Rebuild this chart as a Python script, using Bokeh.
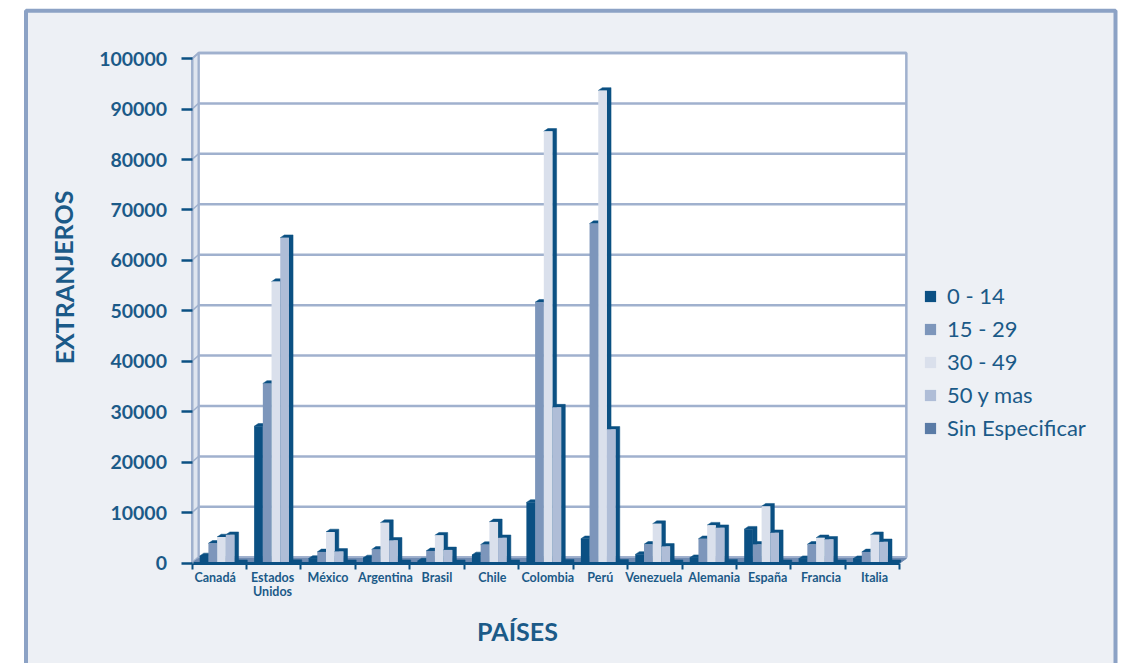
from bokeh.plotting import figure
from bokeh.embed import file_html
from bokeh.resources import INLINE
from bokeh.core.properties import value
from bokeh.models import (Range1d, LinearAxis, FixedTicker, Legend, LegendItem, BasicTickFormatter)

paises = ["Canadá", "Estados\nUnidos", "México", "Argentina", "Brasil", "Chile", "Colombia", "Perú",
          "Venezuela", "Alemania", "España", "Francia", "Italia"]
edad_0_14 = [1400, 27100, 900, 1000, 400, 1600, 12000, 4800, 1700, 1050, 6700, 850, 850]
edad_15_29 = [3900, 35600, 2200, 2700, 2400, 3650, 51700, 67300, 3700, 4800, 3700, 3700, 2200]
edad_30_49 = [5150, 55800, 6150, 8000, 5500, 8150, 85600, 93700, 7800, 7500, 11250, 5000, 5600]
edad_50_mas = [5600, 64500, 2300, 4500, 2600, 5000, 30900, 26500, 3300, 7000, 6000, 4700, 4200]
sin_especificar = [50, 80, 60, 60, 50, 60, 150, 120, 60, 150, 60, 50, 50]
series_nombres = ["0 - 14", "15 - 29", "30 - 49", "50 y mas", "Sin Especificar"]
series_valores = [edad_0_14, edad_15_29, edad_30_49, edad_50_mas, sin_especificar]
series_colores = ["#0b5083", "#7d96bb", "#dae0ec", "#afbdd7", "#5a7ba6"]
marcas_y = list(range(0, 100001, 10000))

DARK = "#0b5083"
TXT = "#1b5a88"
LINE = "#a0b1ce"
PANEL = "#edf0f5"
FONT = "Lato"

W, H = 1123, 663
X0_PX, Y0_PX = 191.5, 562.5   # where the origin of the chart lies on the page
PXX = 54.45               # px per category
PXY = 5.043 / 1000        # px per value unit


def fx(px):
    return (px - X0_PX) / PXX


def fy(py):
    return (Y0_PX - py) / PXY


p = figure(width=W, height=H, output_backend="svg", toolbar_location=None,
           x_range=Range1d(fx(0), fx(W)), y_range=Range1d(fy(H), fy(0)),
           x_axis_type=None, y_axis_type=None,
           min_border_left=0, min_border_right=0, min_border_top=0, min_border_bottom=0,
           border_fill_color="white", background_fill_color="white", outline_line_color=None)
p.grid.visible = False

# panel behind the chart
p.quad(left=[fx(25.5)], right=[fx(1115)], top=[fy(10.3)], bottom=[fy(H + 10)],
       fill_color=PANEL, line_color="#8ca2c5", line_width=4)

dx = 6.5 / PXX
dy = 5.7 / PXY
n = len(paises)
# back wall, left wall, floor
p.quad(left=[dx], right=[n + dx], bottom=[dy], top=[100000 + dy], fill_color="white", line_color=LINE, line_width=2.5)
p.patches(xs=[[0, dx, dx, 0]], ys=[[0, dy, 100000 + dy, 100000]], fill_color="#dfe5ef", line_color=LINE, line_width=2)
p.segment(x0=[dx] * len(marcas_y), x1=[n + dx] * len(marcas_y), y0=[v + dy for v in marcas_y],
          y1=[v + dy for v in marcas_y], line_color=LINE, line_width=2.5)
p.segment(x0=[0] * len(marcas_y), x1=[dx] * len(marcas_y), y0=marcas_y,
          y1=[v + dy for v in marcas_y], line_color=LINE, line_width=1.5)
p.patches(xs=[[0, n, n + dx, dx]], ys=[[0, 0, dy * 0.8, dy * 0.8]], fill_color="#6f8ab1", line_color="#6f8ab1", line_width=1)

# bars
bw = 8.7 / PXX
off = 7.7 / PXX
bx = 4.1 / PXX
by = 2.8 / PXY
items = []
for s, (nombre, vals, col) in enumerate(zip(series_nombres, series_valores, series_colores)):
    xl = [i + off + s * bw for i in range(n)]
    xr = [a + bw for a in xl]
    p.patches(xs=[[r, r + bx, r + bx, l + bx, l, r] for l, r, v in zip(xl, xr, vals)],
              ys=[[0, by * 0.3, v + by, v + by, v, v] for v in vals],
              fill_color=DARK, line_color=DARK, line_width=0.5)
    q = p.quad(left=xl, right=xr, bottom=[0] * n, top=vals, fill_color=col, line_color=None)
    items.append(LegendItem(label=nombre, renderers=[q]))

yax = LinearAxis(ticker=FixedTicker(ticks=marcas_y), bounds=(0, 100000), fixed_location=0,
                 formatter=BasicTickFormatter(use_scientific=False))
yax.axis_line_color = LINE
yax.axis_line_width = 2
yax.major_tick_line_color = DARK
yax.major_tick_line_width = 2.5
yax.major_tick_out = 11
yax.major_tick_in = 0
yax.minor_tick_line_color = None
yax.major_label_standoff = 14
yax.major_label_text_font = FONT
yax.major_label_text_font_style = "bold"
yax.major_label_text_font_size = "19.5px"
yax.major_label_text_color = TXT
p.add_layout(yax, "left")

nudge_px = [-3, 0, 1, 4, 1, 2, 3, 1, 0, 6, 5, 4, 3]
pos_x = [i + 0.48 + d / PXX for i, d in enumerate(nudge_px)]
xax = LinearAxis(ticker=FixedTicker(ticks=pos_x, minor_ticks=list(range(n + 1))),
                 bounds=(0, n), fixed_location=0,
                 major_label_overrides={x: t for x, t in zip(pos_x, paises)})
xax.axis_line_color = DARK
xax.axis_line_width = 3
xax.major_tick_line_color = None
xax.minor_tick_line_color = DARK
xax.minor_tick_line_width = 2
xax.minor_tick_out = 6
xax.minor_tick_in = 0
xax.major_label_standoff = 1
xax.major_label_text_font = FONT
xax.major_label_text_font_style = "bold"
xax.major_label_text_font_size = "12.5px"
xax.major_label_text_line_height = 0.95
xax.major_label_text_color = TXT
p.add_layout(xax, "below")

p.text(x=[fx(63)], y=[fy(277)], text=["EXTRANJEROS"], angle=1.5708, text_align="center", text_baseline="middle",
       text_font=value(FONT), text_font_style="bold", text_font_size="25px", text_color=TXT)
p.text(x=[fx(517)], y=[fy(630)], text=["PAÍSES"], text_align="center", text_baseline="middle",
       text_font=value(FONT), text_font_style="bold", text_font_size="25px", text_color=TXT)

leg = Legend(items=items, location=(923, H - 441), glyph_width=14, glyph_height=14, label_standoff=10,
             spacing=6, padding=0, margin=0, border_line_color=None, background_fill_color=None,
             label_text_font=FONT, label_text_font_size="22px", label_text_color=TXT)
p.add_layout(leg)

open("out.html", "w").write(file_html(p, INLINE))
